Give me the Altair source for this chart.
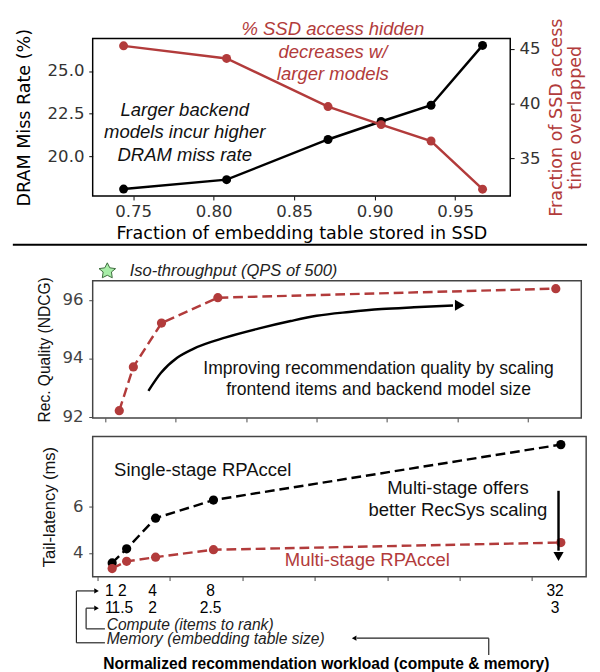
import altair as alt
import pandas as pd

RED = "#b23b3b"
SANS = "Liberation Sans"
DJ = "DejaVu Sans"
STAR_PATH = "M0,.5L.6,.8L.5,.1L1,-.3L.3,-.4L0,-1L-.3,-.4L-1,-.3L-.5,.1L-.6,.8L0,.5Z"

# ---------------- top panel data ----------------
ssd_fraction = [0.744, 0.808, 0.871, 0.904, 0.935, 0.967]
dram_miss_rate = [18.1, 18.65, 21.0, 22.05, 23.0, 26.5]
ssd_overlap = [45.3, 44.15, 39.75, 38.1, 36.6, 32.2]

top_x_ticks = [0.75, 0.80, 0.85, 0.90, 0.95]
top_left_ticks = [20.0, 22.5, 25.0]
top_right_ticks = [35, 40, 45]

red_note_lines = ["% SSD access hidden", "decreases w/", "larger models"]
red_note_x = [0.874, 0.874, 0.874]
red_note_y = [46.86, 44.73, 42.69]
black_note_lines = ["Larger backend", "models incur higher", "DRAM miss rate"]
black_note_x = [0.782, 0.782, 0.782]
black_note_y = [22.69, 21.42, 20.10]
separator_x = [0.6752, 1.0319]
separator_y = [14.84, 14.84]

# ---------------- middle / bottom panel data ----------------
compute_items = [1, 2, 4, 8, 32]
memory_size = [1, 1.5, 2, 2.5, 3]
ndcg = [92.2, 93.7, 95.2, 96.07, 96.38]
single_stage = [3.57, 4.18, 5.50, 6.28, 8.67]
multi_stage = [3.33, 3.64, 3.82, 4.14, 4.45]

compute_labels = ["1", "2", "4", "8", "32"]
memory_labels = ["1", "1.5", "2", "2.5", "3"]

mid_y_ticks = [92, 94, 96]
bot_y_ticks = [4, 6]
workload_ticks = [0, 5, 10, 15, 20, 25, 30]

# annotation geometry (data units of each panel)
iso_star = [0.15, 96.98]
iso_text = [1.74, 96.98]
curve_x = [3.07, 3.95, 5.11, 6.26, 8.57, 10.87, 13.17, 15.02, 17.32, 19.63, 21.93, 24.70]
curve_y = [92.88, 93.49, 94.01, 94.32, 94.71, 95.01, 95.27, 95.45, 95.58, 95.68, 95.74, 95.80]
curve_head = [25.18, 95.81]
improve_lines = ["Improving recommendation quality by scaling", "frontend items and backend model size"]
improve_x = [19.41, 19.41]
improve_y = [93.63, 92.90]
mid_extent_x = [-6.56, -6.0]
mid_extent_y = [91.75, 91.75]

single_label = [7.26, 7.59]
multi_label = [18.63, 3.68]
offers_lines = ["Multi-stage offers", "better RecSys scaling"]
offers_x = [24.89, 24.89]
offers_y = [6.81, 5.83]
down_arrow_x = [31.84, 31.84]
down_arrow_y = [6.68, 4.10]
down_head = [31.84, 3.85]
bot_extent_x = [-5.86, -5.3]
bot_extent_y = [6.0, 6.0]

row1_y = 2.365
row2_y = 1.623
row_x = [0.8, 1.7, 3.8, 7.8, 31.6]
seg_id = ["a", "a", "b", "b", "c", "c", "d", "d", "e", "e", "f", "f", "g", "g", "h", "h"]
seg_x = [-1.47, -1.47, -1.47, -0.22, -1.47, 0.50,
         -0.80, -0.80, -0.80, -0.22, -0.80, 0.50,
         27.02, 27.02, 27.02, 17.9]
seg_y = [2.365, 0.13, 2.365, 2.365, 0.13, 0.13,
         1.623, 0.73, 1.623, 1.623, 0.73, 0.73,
         -0.40, 0.33, 0.33, 0.33]
right_heads_x = [-0.08, -0.08]
right_heads_y = [2.365, 1.623]
left_head = [17.72, 0.33]
legend_text = ["Compute (items to rank)", "Memory (embedding table size)"]
legend_x = [0.62, 0.62]
legend_y = [0.897, 0.268]
xtitle_pos = [15.8, -0.78]

# ---------------- top panel (flat layer, independent y) ----------------
def top_x():
    return alt.X("x:Q", scale=alt.Scale(domain=[0.7248, 0.9842], nice=False, zero=False),
                 axis=alt.Axis(values=top_x_ticks, format=".2f",
                               title="Fraction of embedding table stored in SSD",
                               titleFont=DJ, titleFontSize=18, titleFontWeight="normal", titleColor="#000",
                               titlePadding=6,
                               labelFont=DJ, labelFontSize=17, labelColor="#333", labelPadding=4,
                               tickSize=4, tickColor="#000", domain=False, grid=False))


LEFT_SCALE = dict(domain=[17.69, 26.91], nice=False, zero=False)
RIGHT_SCALE = dict(domain=[31.57, 45.98], nice=False, zero=False)


def top_yl(with_axis):
    if with_axis:
        return alt.Y("y:Q", scale=alt.Scale(**LEFT_SCALE),
                     axis=alt.Axis(values=top_left_ticks, format=".1f", title="DRAM Miss Rate (%)", orient="left",
                                   titleFont=DJ, titleFontSize=18, titleFontWeight="normal", titleColor="#000",
                                   titlePadding=14,
                                   labelFont=DJ, labelFontSize=17, labelColor="#333", labelPadding=5,
                                   tickSize=4, tickColor="#000", domain=False, grid=False))
    return alt.Y("y:Q", scale=alt.Scale(**LEFT_SCALE), axis=None)


def top_yr(with_axis):
    if with_axis:
        return alt.Y("y:Q", scale=alt.Scale(**RIGHT_SCALE),
                     axis=alt.Axis(values=top_right_ticks, format="d", orient="right",
                                   title=["Fraction of SSD access", "time overlapped"],
                                   titleFont=DJ, titleFontSize=18, titleFontWeight="normal", titleColor=RED,
                                   titlePadding=6, titleAngle=270,
                                   labelFont=DJ, labelFontSize=17, labelColor="#333", labelPadding=5,
                                   tickSize=4, tickColor="#000", domain=False, grid=False))
    return alt.Y("y:Q", scale=alt.Scale(**RIGHT_SCALE), axis=None)


df_black = pd.DataFrame({"x": ssd_fraction, "y": dram_miss_rate})
df_red = pd.DataFrame({"x": ssd_fraction, "y": ssd_overlap})
df_black_note = pd.DataFrame({"x": black_note_x, "y": black_note_y, "t": black_note_lines})
df_red_note = pd.DataFrame({"x": red_note_x, "y": red_note_y, "t": red_note_lines})
df_sep = pd.DataFrame({"x": separator_x, "y": separator_y})

top = alt.layer(
    alt.Chart(df_black).mark_line(color="black", strokeWidth=2.5).encode(x=top_x(), y=top_yl(True)),
    alt.Chart(df_black).mark_circle(color="black", size=85, opacity=1).encode(x=top_x(), y=top_yl(False)),
    alt.Chart(df_black_note).mark_text(font=SANS, fontSize=19, fontStyle="italic", color="#111",
                                       align="center", baseline="middle").encode(
        x=top_x(), y=top_yl(False), text="t:N"),
    alt.Chart(df_sep).mark_line(color="#000", strokeWidth=2).encode(x=top_x(), y=top_yl(False)),
    alt.Chart(df_red).mark_line(color=RED, strokeWidth=2.5).encode(x=top_x(), y=top_yr(True)),
    alt.Chart(df_red).mark_circle(color=RED, size=85, opacity=1).encode(x=top_x(), y=top_yr(False)),
    alt.Chart(df_red_note).mark_text(font=SANS, fontSize=19, fontStyle="italic", color=RED,
                                     align="center", baseline="middle").encode(
        x=top_x(), y=top_yr(False), text="t:N"),
).resolve_scale(y="independent").properties(
    width=429, height=162, view=alt.ViewBackground(stroke="#000", strokeWidth=1.5))

# ---------------- middle panel ----------------
def mid_x():
    return alt.X("x:Q", scale=alt.Scale(domain=[-0.888, 33.81], nice=False, zero=False),
                 axis=alt.Axis(values=workload_ticks, labels=False, title="", tickSize=4,
                               tickColor="#444", domain=False, grid=False))


def mid_y():
    return alt.Y("y:Q", scale=alt.Scale(domain=[91.95, 96.65], nice=False, zero=False),
                 axis=alt.Axis(values=mid_y_ticks, format="d", title="Rec. Quality (NDCG)",
                               titleFont=SANS, titleFontSize=16, titleFontWeight="normal", titleColor="#111",
                               titlePadding=10,
                               labelFont=DJ, labelFontSize=17, labelColor="#444", labelPadding=6,
                               tickSize=4, tickColor="#444", domain=False, grid=False))


df_ndcg = pd.DataFrame({"x": compute_items, "y": ndcg})
df_star = pd.DataFrame({"x": [iso_star[0]], "y": [iso_star[1]]})
df_iso = pd.DataFrame({"x": [iso_text[0]], "y": [iso_text[1]], "t": ["Iso-throughput (QPS of 500)"]})
df_curve = pd.DataFrame({"x": curve_x, "y": curve_y})
df_chead = pd.DataFrame({"x": [curve_head[0]], "y": [curve_head[1]]})
df_improve = pd.DataFrame({"x": improve_x, "y": improve_y, "t": improve_lines})
df_mid_ext = pd.DataFrame({"x": mid_extent_x, "y": mid_extent_y})

middle = alt.layer(
    alt.Chart(df_curve).mark_line(color="#000", strokeWidth=2.5, interpolate="monotone").encode(x=mid_x(), y=mid_y()),
    alt.Chart(df_chead).mark_point(shape="triangle-right", size=130, filled=True,
                                   color="#000", opacity=1).encode(x=mid_x(), y=mid_y()),
    alt.Chart(df_ndcg).mark_line(color=RED, strokeWidth=2.5, strokeDash=[10, 5]).encode(x=mid_x(), y=mid_y()),
    alt.Chart(df_ndcg).mark_circle(color=RED, size=90, opacity=1).encode(x=mid_x(), y=mid_y()),
    alt.Chart(df_star).mark_point(shape=STAR_PATH, size=290, filled=True, fill="#a8eea8", stroke="#3d6b3d",
                                  strokeWidth=1, opacity=1).encode(x=mid_x(), y=mid_y()),
    alt.Chart(df_iso).mark_text(font=SANS, fontSize=17, fontStyle="italic", color="#222",
                                align="left", baseline="middle").encode(x=mid_x(), y=mid_y(), text="t:N"),
    alt.Chart(df_improve).mark_text(font=SANS, fontSize=18, color="#111",
                                    align="center", baseline="middle").encode(x=mid_x(), y=mid_y(), text="t:N"),
    alt.Chart(df_mid_ext).mark_line(opacity=0).encode(x=mid_x(), y=mid_y()),
).properties(width=502, height=141, view=alt.ViewBackground(stroke="#444", strokeWidth=1.5))

# ---------------- bottom panel ----------------
def bot_x():
    return alt.X("x:Q", scale=alt.Scale(domain=[-0.346, 33.75], nice=False, zero=False),
                 axis=alt.Axis(values=workload_ticks, labels=False, title="", tickSize=4,
                               tickColor="#444", domain=False, grid=False))


def bot_y():
    return alt.Y("y:Q", scale=alt.Scale(domain=[2.98, 9.02], nice=False, zero=False),
                 axis=alt.Axis(values=bot_y_ticks, format="d", title="Tail-latency (ms)",
                               titleFont=SANS, titleFontSize=17, titleFontWeight="normal", titleColor="#111",
                               titlePadding=14,
                               labelFont=DJ, labelFontSize=17, labelColor="#444", labelPadding=6,
                               tickSize=4, tickColor="#444", domain=False, grid=False))


df_single = pd.DataFrame({"x": compute_items, "y": single_stage})
df_multi = pd.DataFrame({"x": compute_items, "y": multi_stage})
df_single_lbl = pd.DataFrame({"x": [single_label[0]], "y": [single_label[1]], "t": ["Single-stage RPAccel"]})
df_multi_lbl = pd.DataFrame({"x": [multi_label[0]], "y": [multi_label[1]], "t": ["Multi-stage RPAccel"]})
df_offers = pd.DataFrame({"x": offers_x, "y": offers_y, "t": offers_lines})
df_down = pd.DataFrame({"x": down_arrow_x, "y": down_arrow_y})
df_dhead = pd.DataFrame({"x": [down_head[0]], "y": [down_head[1]]})
df_rows = pd.DataFrame({"x": row_x + row_x,
                        "y": [row1_y] * 5 + [row2_y] * 5,
                        "t": compute_labels + memory_labels})
df_segs = pd.DataFrame({"id": seg_id, "x": seg_x, "y": seg_y})
df_rheads = pd.DataFrame({"x": right_heads_x, "y": right_heads_y})
df_lhead = pd.DataFrame({"x": [left_head[0]], "y": [left_head[1]]})
df_legend = pd.DataFrame({"x": legend_x, "y": legend_y, "t": legend_text})
df_xtitle = pd.DataFrame({"x": [xtitle_pos[0]], "y": [xtitle_pos[1]],
                          "t": ["Normalized recommendation workload (compute & memory)"]})
df_bot_ext = pd.DataFrame({"x": bot_extent_x, "y": bot_extent_y})

bottom = alt.layer(
    alt.Chart(df_single).mark_line(color="#000", strokeWidth=2.5, strokeDash=[10, 5]).encode(x=bot_x(), y=bot_y()),
    alt.Chart(df_single).mark_circle(color="#000", size=90, opacity=1).encode(x=bot_x(), y=bot_y()),
    alt.Chart(df_multi).mark_line(color=RED, strokeWidth=2.5, strokeDash=[10, 5]).encode(x=bot_x(), y=bot_y()),
    alt.Chart(df_multi).mark_circle(color=RED, size=90, opacity=1).encode(x=bot_x(), y=bot_y()),
    alt.Chart(df_single_lbl).mark_text(font=SANS, fontSize=19, color="#111", align="center",
                                       baseline="middle").encode(x=bot_x(), y=bot_y(), text="t:N"),
    alt.Chart(df_multi_lbl).mark_text(font=SANS, fontSize=19, color=RED, align="center",
                                      baseline="middle").encode(x=bot_x(), y=bot_y(), text="t:N"),
    alt.Chart(df_offers).mark_text(font=SANS, fontSize=19, color="#111", align="center",
                                   baseline="middle").encode(x=bot_x(), y=bot_y(), text="t:N"),
    alt.Chart(df_down).mark_line(color="#000", strokeWidth=2.5).encode(x=bot_x(), y=bot_y()),
    alt.Chart(df_dhead).mark_point(shape="triangle-down", size=110, filled=True,
                                   color="#000", opacity=1).encode(x=bot_x(), y=bot_y()),
    alt.Chart(df_rows).mark_text(font=SANS, fontSize=16, color="#000", align="center",
                                 baseline="middle").encode(x=bot_x(), y=bot_y(), text="t:N"),
    alt.Chart(df_segs).mark_line(color="#222", strokeWidth=1.2).encode(x=bot_x(), y=bot_y(), detail="id:N"),
    alt.Chart(df_rheads).mark_point(shape="triangle-right", size=30, filled=True,
                                    color="#000", opacity=1).encode(x=bot_x(), y=bot_y()),
    alt.Chart(df_lhead).mark_point(shape="triangle-left", size=30, filled=True,
                                   color="#000", opacity=1).encode(x=bot_x(), y=bot_y()),
    alt.Chart(df_legend).mark_text(font=SANS, fontSize=16, fontStyle="italic", color="#222",
                                   align="left", baseline="middle").encode(x=bot_x(), y=bot_y(), text="t:N"),
    alt.Chart(df_xtitle).mark_text(font=SANS, fontSize=16, fontWeight="bold", color="#000",
                                   align="center", baseline="middle").encode(x=bot_x(), y=bot_y(), text="t:N"),
    alt.Chart(df_bot_ext).mark_line(opacity=0).encode(x=bot_x(), y=bot_y()),
).properties(width=507, height=144, view=alt.ViewBackground(stroke="#444", strokeWidth=1.5))

chart = alt.vconcat(top, middle, bottom, spacing=10).properties(padding=0)

chart.save("out.html", embed_options={"renderer": "svg", "actions": False})
